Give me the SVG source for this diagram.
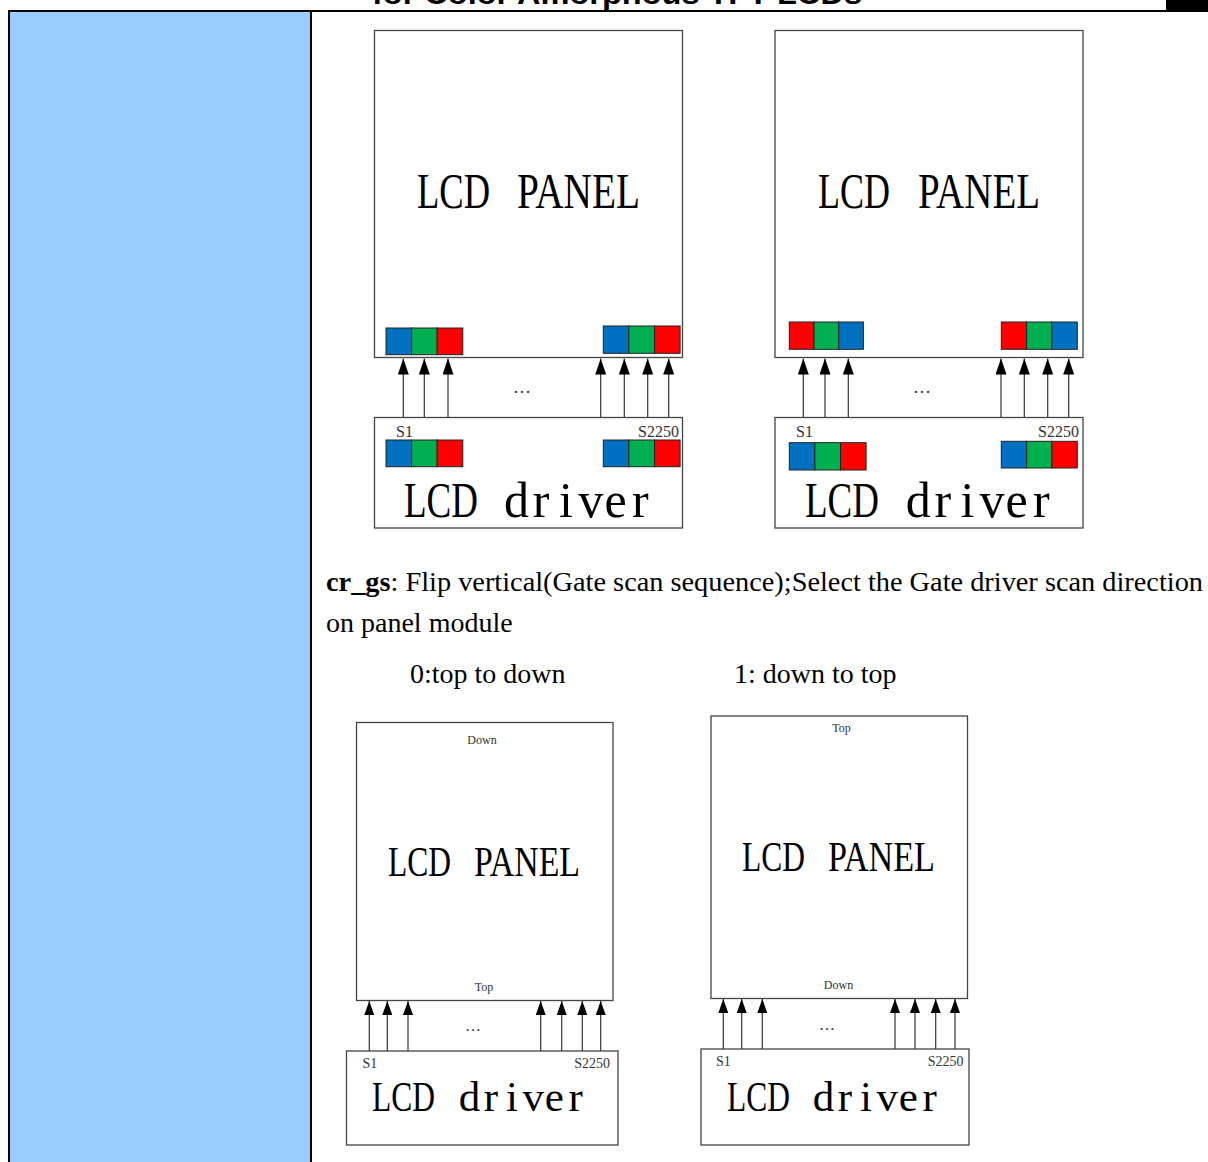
<svg xmlns="http://www.w3.org/2000/svg" width="1208" height="1162" viewBox="0 0 1208 1162">
<style>
.box{fill:#fff;stroke:#444;stroke-width:1.3}
.b{fill:#0070C0;stroke:#222;stroke-width:1}
.g{fill:#00B050;stroke:#222;stroke-width:1}
.r{fill:#FF0000;stroke:#222;stroke-width:1}
.big{font-family:"Liberation Serif",serif;fill:#000}
.mono{font-family:"Liberation Serif",serif;fill:#000;text-anchor:middle}
.sm{font-family:"Liberation Serif",serif;fill:#333}
.para{font-family:"Liberation Serif",serif;font-size:28px;fill:#000}
.ar{stroke:#333;stroke-width:1.2;fill:none}
</style>
<defs>
<marker id="ah" markerUnits="userSpaceOnUse" viewBox="0 0 16 11" markerWidth="16" markerHeight="11" refX="16" refY="5.5" orient="auto"><path d="M0,0 L16,5.5 L0,11 z" fill="#000"/></marker>
<marker id="ah2" markerUnits="userSpaceOnUse" viewBox="0 0 14 10" markerWidth="14" markerHeight="10" refX="14" refY="5" orient="auto"><path d="M0,0 L14,5 L0,10 z" fill="#000"/></marker>
</defs>

<g id="page">
<rect x="10" y="12" width="300" height="1150" fill="#99CCFF"/>
<line x1="8" y1="11" x2="1208" y2="11" stroke="#000" stroke-width="2"/>
<line x1="9" y1="10" x2="9" y2="1162" stroke="#000" stroke-width="2"/>
<line x1="311" y1="10" x2="311" y2="1162" stroke="#000" stroke-width="2"/>
<rect x="1166" y="0" width="42" height="10" fill="#000"/>
<text x="617" y="4" text-anchor="middle" font-family="Liberation Sans, Arial, sans-serif" font-weight="bold" font-size="30" textLength="490" lengthAdjust="spacingAndGlyphs">for Color Amorphous TFT LCDs</text>
</g>

<g id="panel-tl">
<rect class="box" x="374.5" y="30.5" width="308" height="327"/>
<text class="big" font-size="50" y="208"><tspan x="417" textLength="73" lengthAdjust="spacingAndGlyphs">LCD</tspan> <tspan x="517" textLength="123" lengthAdjust="spacingAndGlyphs">PANEL</tspan></text>
<rect class="b" x="386" y="328" width="25.6" height="26.7"/><rect class="g" x="411.6" y="328" width="25.6" height="26.7"/><rect class="r" x="437.2" y="328" width="25.6" height="26.7"/>
<rect class="b" x="603.3" y="326" width="25.6" height="27.3"/><rect class="g" x="628.9" y="326" width="25.6" height="27.3"/><rect class="r" x="654.5" y="326" width="25.6" height="27.3"/>
</g>
<g id="driver-tl">
<rect class="box" x="374.5" y="417.5" width="308" height="110.5"/>
<text class="sm" x="396" y="437" font-size="16">S1</text>
<text class="sm" x="679" y="437" font-size="16" text-anchor="end">S2250</text>
<rect class="b" x="386" y="440" width="25.6" height="26.7"/><rect class="g" x="411.6" y="440" width="25.6" height="26.7"/><rect class="r" x="437.2" y="440" width="25.6" height="26.7"/>
<rect class="b" x="603.3" y="440" width="25.6" height="26.7"/><rect class="g" x="628.9" y="440" width="25.6" height="26.7"/><rect class="r" x="654.5" y="440" width="25.6" height="26.7"/>
<text class="big" font-size="50" y="517" x="404" textLength="74" lengthAdjust="spacingAndGlyphs">LCD</text>
<text class="mono" font-size="50" y="517" x="516.4 541.2 566 590.8 615.6 640.4">driver</text>
</g>

<g id="panel-tr">
<rect class="box" x="775" y="30.5" width="308" height="327"/>
<text class="big" font-size="50" y="208"><tspan x="818" textLength="72" lengthAdjust="spacingAndGlyphs">LCD</tspan> <tspan x="918" textLength="122" lengthAdjust="spacingAndGlyphs">PANEL</tspan></text>
<rect class="r" x="789.3" y="322" width="24.7" height="27.3"/><rect class="g" x="814" y="322" width="24.7" height="27.3"/><rect class="b" x="838.7" y="322" width="24.7" height="27.3"/>
<rect class="r" x="1001.3" y="322" width="25.3" height="27.3"/><rect class="g" x="1026.6" y="322" width="25.3" height="27.3"/><rect class="b" x="1051.9" y="322" width="25.4" height="27.3"/>
</g>
<g id="driver-tr">
<rect class="box" x="775" y="417.5" width="308" height="110.5"/>
<text class="sm" x="796" y="437" font-size="16">S1</text>
<text class="sm" x="1079" y="437" font-size="16" text-anchor="end">S2250</text>
<rect class="b" x="789.3" y="442.7" width="25.6" height="27.3"/><rect class="g" x="814.9" y="442.7" width="25.6" height="27.3"/><rect class="r" x="840.5" y="442.7" width="25.6" height="27.3"/>
<rect class="b" x="1001.3" y="441.3" width="25.3" height="26.7"/><rect class="g" x="1026.6" y="441.3" width="25.3" height="26.7"/><rect class="r" x="1051.9" y="441.3" width="25.4" height="26.7"/>
<text class="big" font-size="50" y="517" x="805" textLength="74" lengthAdjust="spacingAndGlyphs">LCD</text>
<text class="mono" font-size="50" y="517" x="918.3 942.9 967.5 992.1 1016.7 1041.3">driver</text>
</g>

<g id="description">
<text class="para" x="326" y="591" textLength="877" lengthAdjust="spacingAndGlyphs"><tspan font-weight="bold">cr_gs</tspan>: Flip vertical(Gate scan sequence);Select the Gate driver scan direction</text>
<text class="para" x="326" y="632">on panel module</text>
<text class="para" x="410" y="683">0:top to down</text>
<text class="para" x="734" y="683">1: down to top</text>
</g>

<g id="panel-bl">
<rect class="box" x="356.5" y="722.5" width="256.5" height="278"/>
<text class="sm" x="482" y="744" font-size="12" text-anchor="middle">Down</text>
<text class="big" font-size="43" y="876"><tspan x="388" textLength="63" lengthAdjust="spacingAndGlyphs">LCD</tspan> <tspan x="474" textLength="106" lengthAdjust="spacingAndGlyphs">PANEL</tspan></text>
<text class="sm" x="484" y="991" font-size="12" text-anchor="middle">Top</text>
</g>
<g id="driver-bl">
<rect class="box" x="346.5" y="1051" width="271.5" height="94"/>
<text class="sm" x="362.5" y="1068" font-size="14">S1</text>
<text class="sm" x="610" y="1068" font-size="14" text-anchor="end">S2250</text>
<text class="big" font-size="43" y="1111" x="372" textLength="63" lengthAdjust="spacingAndGlyphs">LCD</text>
<text class="mono" font-size="43" y="1111" x="469.6 490.8 512 533.2 554.4 575.6">driver</text>
</g>

<g id="panel-br">
<rect class="box" x="711" y="716" width="256.5" height="282.5"/>
<text class="sm" x="841.5" y="732" font-size="12" text-anchor="middle">Top</text>
<text class="big" font-size="43" y="871"><tspan x="742" textLength="63" lengthAdjust="spacingAndGlyphs">LCD</tspan> <tspan x="828" textLength="107" lengthAdjust="spacingAndGlyphs">PANEL</tspan></text>
<text class="sm" x="838.5" y="989" font-size="12" text-anchor="middle">Down</text>
</g>
<g id="driver-br">
<rect class="box" x="701" y="1049" width="268" height="96"/>
<text class="sm" x="716" y="1066" font-size="14">S1</text>
<text class="sm" x="963.5" y="1066" font-size="14" text-anchor="end">S2250</text>
<text class="big" font-size="43" y="1111" x="727" textLength="63" lengthAdjust="spacingAndGlyphs">LCD</text>
<text class="mono" font-size="43" y="1111" x="823.6 844.8 866 887.2 908.4 929.6">driver</text>
</g>

<g id="connectors">
<g marker-end="url(#ah)" class="ar">
<line x1="403.3" y1="417" x2="403.3" y2="358.5"/><line x1="424.3" y1="417" x2="424.3" y2="358.5"/><line x1="448" y1="417" x2="448" y2="358.5"/>
<line x1="600.7" y1="417" x2="600.7" y2="358.5"/><line x1="624.3" y1="417" x2="624.3" y2="358.5"/><line x1="647.7" y1="417" x2="647.7" y2="358.5"/><line x1="668.7" y1="417" x2="668.7" y2="358.5"/>
<line x1="803.3" y1="417" x2="803.3" y2="358.5"/><line x1="825" y1="417" x2="825" y2="358.5"/><line x1="848.3" y1="417" x2="848.3" y2="358.5"/>
<line x1="1001" y1="417" x2="1001" y2="358.5"/><line x1="1024.3" y1="417" x2="1024.3" y2="358.5"/><line x1="1047.7" y1="417" x2="1047.7" y2="358.5"/><line x1="1068.7" y1="417" x2="1068.7" y2="358.5"/>
</g>
<g marker-end="url(#ah2)" class="ar">
<line x1="369.3" y1="1051" x2="369.3" y2="1001"/><line x1="387.3" y1="1051" x2="387.3" y2="1001"/><line x1="408" y1="1051" x2="408" y2="1001"/>
<line x1="540.7" y1="1051" x2="540.7" y2="1001"/><line x1="561.7" y1="1051" x2="561.7" y2="1001"/><line x1="582.3" y1="1051" x2="582.3" y2="1001"/><line x1="600.7" y1="1051" x2="600.7" y2="1001"/>
<line x1="723.3" y1="1049" x2="723.3" y2="999"/><line x1="741.7" y1="1049" x2="741.7" y2="999"/><line x1="762.3" y1="1049" x2="762.3" y2="999"/>
<line x1="895" y1="1049" x2="895" y2="999"/><line x1="915" y1="1049" x2="915" y2="999"/><line x1="935.7" y1="1049" x2="935.7" y2="999"/><line x1="955" y1="1049" x2="955" y2="999"/>
</g>
<text class="sm" x="522" y="393" font-size="18" text-anchor="middle">…</text>
<text class="sm" x="922" y="393" font-size="18" text-anchor="middle">…</text>
<text class="sm" x="473" y="1031" font-size="16" text-anchor="middle">…</text>
<text class="sm" x="827" y="1030" font-size="16" text-anchor="middle">…</text>
</g>
</svg>
